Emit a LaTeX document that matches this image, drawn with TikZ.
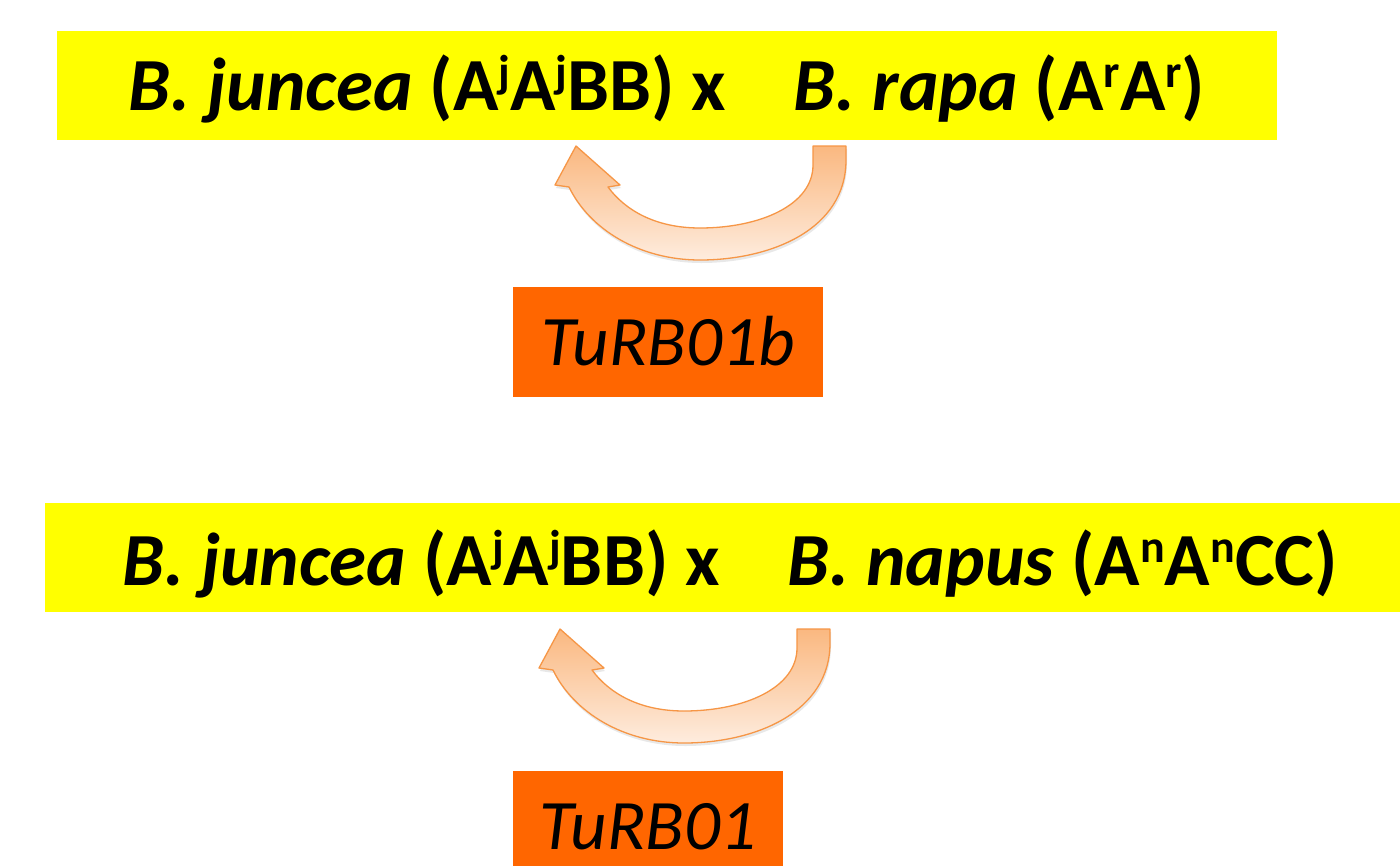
\documentclass[tikz,border=0pt]{standalone}
\usepackage{fontspec}
\setmainfont{Carlito}
\usetikzlibrary{shadows}
\definecolor{barY}{RGB}{255,255,0}
\definecolor{boxO}{RGB}{255,102,0}
\definecolor{arrTop}{RGB}{250,184,128}
\definecolor{arrBot}{RGB}{254,236,222}
\definecolor{arrLine}{RGB}{246,150,70}
\newcommand{\sups}[1]{\raisebox{0.3em}{\fontsize{46}{50}\selectfont #1}}
\tikzset{
  bar/.style={fill=barY, inner xsep=0pt, inner ysep=0pt, font=\fontsize{75}{90}\selectfont\bfseries, text=black},
  gene/.style={fill=boxO, inner xsep=0pt, inner ysep=0pt, font=\fontsize{71}{85}\selectfont\itshape, text=black},
  curvedarrow/.style={draw=arrLine, line width=1.3pt, top color=arrTop, bottom color=arrBot, line join=round,
    drop shadow={opacity=0.18, shadow xshift=1pt, shadow yshift=-3pt}}
}
\begin{document}
\begin{tikzpicture}[x=1pt,y=-1pt]
\useasboundingbox (0,0) rectangle (1400,865);
\fill[white] (0,0) rectangle (1400,865);

\node[bar, minimum width=1220pt, text height=79pt, text depth=30pt] (cross1) at (667,85.5)
  {\textit{B. juncea} (A\sups{j}A\sups{j}BB) x\hspace{0.9em}\textit{B. rapa} (A\sups{r}A\sups{r})};

\node[gene, minimum width=310pt, text height=78pt, text depth=32pt] (gene1) at (668,342) {TuRB01b};

\node[bar, minimum width=1370pt, text height=82pt, text depth=27pt] (cross2) at (730,557.5)
  {\textit{B. juncea} (A\sups{j}A\sups{j}BB) x\hspace{0.9em}\textit{B. napus} (A\sups{n}A\sups{n}CC)};

\node[gene, minimum width=270pt, text height=78pt, text depth=32pt] (gene2) at (648,826) {TuRB01};

\path[curvedarrow] (846,146) -- (846,160) .. controls (846,230) and (770,260) .. (700,260)
  .. controls (640,260) and (590,230) .. (569,187) -- (555,185) -- (576,146) -- (620,185) -- (608,187)
  .. controls (625,210) and (655,228) .. (700,228) .. controls (760,228) and (813,205) .. (813,165)
  -- (813,146) -- cycle;

\begin{scope}[shift={(-16,483)}]
\path[curvedarrow] (846,146) -- (846,160) .. controls (846,230) and (770,260) .. (700,260)
  .. controls (640,260) and (590,230) .. (569,187) -- (555,185) -- (576,146) -- (620,185) -- (608,187)
  .. controls (625,210) and (655,228) .. (700,228) .. controls (760,228) and (813,205) .. (813,165)
  -- (813,146) -- cycle;
\end{scope}
\end{tikzpicture}
\end{document}
